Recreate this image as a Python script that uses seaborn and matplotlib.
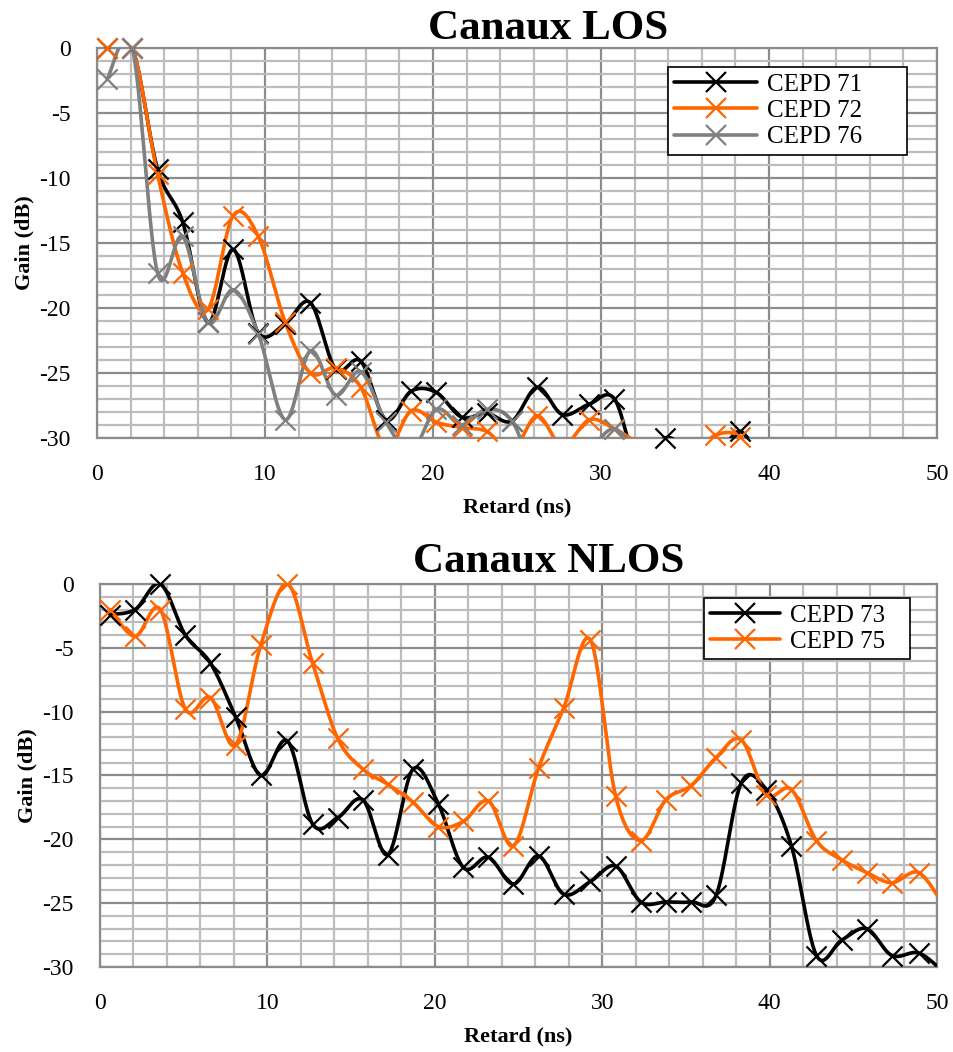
import matplotlib
matplotlib.use("Agg")
import matplotlib.pyplot as plt
from matplotlib.lines import Line2D
from matplotlib.ticker import MultipleLocator
import numpy as np
import pandas as pd
import seaborn as sns

# delays (ns) of the measured taps
delays = [0.6, 2.1, 3.6, 5.1, 6.6, 8.1, 9.6, 11.2, 12.7, 14.2, 15.7, 17.2,
          18.7, 20.2, 21.7, 23.2, 24.7, 26.2, 27.7, 29.3, 30.8, 32.3, 33.8,
          35.3, 36.8, 38.3, 39.8, 41.3, 42.8, 44.3, 45.8, 47.3, 48.9, 50.4]

# LOS channels (dB)
cepd71 = [0, 0, -9.3, -13.4, -21.1, -15.5, -21.9, -21.2, -19.6, -24.7, -24.1,
          -28.6, -26.4, -26.5, -28.4, -28.1, -28.7, -26.1, -28.2, -27.4, -27.0,
          -32.5, -30.0, -31.0, -31.5, -29.5, -32.5]
cepd72 = [0, 0, -9.7, -17.3, -20.1, -12.9, -14.5, -21.1, -25.0, -24.6, -26.1,
          -30.8, -27.9, -28.8, -29.2, -29.5, -31.0, -28.3, -30.6, -28.6, -29.3,
          -30.5, -32.0, -31.5, -29.8, -29.9, -32.5]
cepd76 = [-2.4, 0, -17.3, -14.5, -21.1, -18.6, -22.0, -28.6, -23.3, -26.7, -24.9,
          -28.8, -31.0, -27.8, -29.0, -27.8, -28.7, -33.0, -33.0, -31.0, -29.3,
          -31.5]

# NLOS channels (dB)
cepd73 = [-2.4, -2.0, 0.0, -4.0, -6.2, -10.4, -15.0, -12.3, -18.8, -18.3, -16.9,
          -21.2, -14.5, -17.2, -22.2, -21.4, -23.5, -21.3, -24.3, -23.3, -22.1,
          -24.9, -24.9, -24.9, -24.4, -15.6, -16.1, -20.5, -29.1, -27.9, -27.0,
          -29.1, -28.9, -30.4]
cepd75 = [-2.0, -4.1, -2.0, -9.8, -8.9, -12.6, -4.8, 0.0, -6.2, -12.1, -14.5,
          -15.7, -17.1, -19.0, -18.6, -17.0, -20.5, -14.4, -9.7, -4.4, -16.6,
          -20.1, -16.9, -15.8, -13.6, -12.2, -16.5, -16.1, -20.1, -21.6, -22.6,
          -23.4, -22.6, -25.2]

BLACK, ORANGE, GREY = "#000000", "#ff6600", "#808080"


def smooth(x, y, n=30):
    # Excel-like smoothed line (Catmull-Rom as cubic Bezier)
    x = np.asarray(x, float)
    y = np.asarray(y, float)
    px = np.concatenate([[x[0]], x, [x[-1]]])
    py = np.concatenate([[y[0]], y, [y[-1]]])
    xs, ys = [], []
    t = np.linspace(0, 1, n)
    for i in range(1, len(px) - 2):
        p0 = np.array([px[i], py[i]])
        p3 = np.array([px[i + 1], py[i + 1]])
        c1 = p0 + (np.array([px[i + 1], py[i + 1]]) - np.array([px[i - 1], py[i - 1]])) / 6
        c2 = p3 - (np.array([px[i + 2], py[i + 2]]) - np.array([px[i], py[i]])) / 6
        b = ((1 - t) ** 3)[:, None] * p0 + (3 * (1 - t) ** 2 * t)[:, None] * c1 \
            + (3 * (1 - t) * t ** 2)[:, None] * c2 + (t ** 3)[:, None] * p3
        xs.extend(b[:, 0])
        ys.extend(b[:, 1])
    return pd.DataFrame({"x": xs, "y": ys})


sns.set_style("white")
plt.rcParams["font.family"] = ["Liberation Serif", "DejaVu Serif"]
plt.rcParams["axes.unicode_minus"] = False
for k in ["text.color", "axes.labelcolor", "xtick.color", "ytick.color"]:
    plt.rcParams[k] = "black"

fig = plt.figure(figsize=(9.54, 10.52), dpi=100)
ax1 = fig.add_axes([0.1017, 0.5837, 0.8805, 0.3707])
ax2 = fig.add_axes([0.1048, 0.0808, 0.8774, 0.3641])


def draw(ax, series, title, ty, leg_box, hl):
    for name, vals, col in series:
        d = smooth(delays[:len(vals)], vals)
        sns.lineplot(data=d, x="x", y="y", ax=ax, color=col, lw=2.6, sort=False,
                     estimator=None, zorder=3)
        pts = pd.DataFrame({"x": delays[:len(vals)], "y": vals})
        pts = pts[(pts.y >= -30.05) & (pts.x <= 50)]
        sns.scatterplot(data=pts, x="x", y="y", ax=ax, marker="x", s=210,
                        color=col, linewidth=1.6, zorder=4)
    for c in ax.collections:
        c.set_clip_on(False)
    ax.set_xlim(0, 50)
    ax.set_ylim(-30, 0)
    ax.xaxis.set_major_locator(MultipleLocator(10))
    ax.xaxis.set_minor_locator(MultipleLocator(2))
    ax.yaxis.set_major_locator(MultipleLocator(5))
    ax.yaxis.set_minor_locator(MultipleLocator(1))
    ax.grid(which="minor", color="#bdbdbd", lw=1.6, zorder=0)
    ax.grid(which="major", color="#8c8c8c", lw=1.6, zorder=0)
    ax.set_axisbelow(True)
    for s in ax.spines.values():
        s.set_color("#8c8c8c")
        s.set_linewidth(1.6)
    ax.tick_params(which="both", length=0, labelsize=17)
    ax.tick_params(axis="x", pad=19)
    ax.tick_params(axis="y", pad=19)
    ax.set_xlabel("Retard (ns)", fontsize=16, fontweight="bold", labelpad=9)
    ax.set_ylabel("Gain (dB)", fontsize=16, fontweight="bold", labelpad=3)
    handles = [Line2D([], [], color=c, lw=2.6, marker="x", ms=14, mew=1.6)
               for _, _, c in series]
    leg = ax.legend(handles, [n for n, _, _ in series], loc="upper left",
                    bbox_to_anchor=leg_box, mode="expand", fontsize=18,
                    frameon=True, fancybox=False, framealpha=1,
                    edgecolor="black", handlelength=hl, borderpad=0.25,
                    labelspacing=0.15, handletextpad=0.4, borderaxespad=0)
    leg.get_frame().set_linewidth(1.2)
    leg.set_zorder(10)
    fig.text(0.575, ty, title, fontsize=31, fontweight="bold", ha="center",
             va="center")


draw(ax1, [("CEPD 71", cepd71, BLACK), ("CEPD 72", cepd72, ORANGE),
           ("CEPD 76", cepd76, GREY)], "Canaux LOS", 0.972,
     (0.68, 0.951, 0.284, 0.0), 3.3)
draw(ax2, [("CEPD 73", cepd73, BLACK), ("CEPD 75", cepd75, ORANGE)],
     "Canaux NLOS", 0.466, (0.7216, 0.963, 0.246, 0.0), 2.8)

fig.savefig("out.png", dpi=100)
